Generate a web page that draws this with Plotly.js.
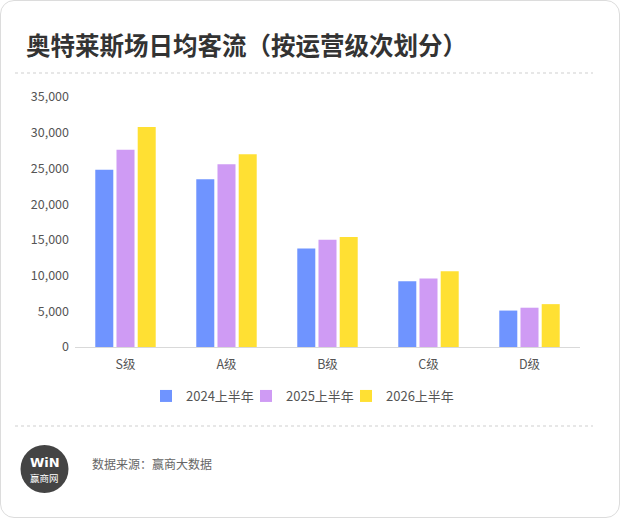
<!DOCTYPE html>
<html>
<head>
<meta charset="utf-8">
<script src="https://cdn.plot.ly/plotly-3.0.1.min.js"></script>
<style>
  html, body { margin: 0; padding: 0; background: #ffffff; }
  #card { position: absolute; left: 0; top: 0; width: 620px; height: 518px;
          box-sizing: border-box; border: 1px solid #dcdcdc; border-radius: 14px; background: #fff; }
  #chart { position: absolute; left: 0; top: 0; width: 620px; height: 518px; }
</style>
</head>
<body>
<div id="card"></div>
<div id="chart"></div>
<script>
// ---- data ----
const categories = ["S级", "A级", "B级", "C级", "D级"];
const seriesNames = ["2024上半年", "2025上半年", "2026上半年"];
const values2024 = [24800, 23500, 13800, 9200, 5100];
const values2025 = [27600, 25600, 15000, 9600, 5500];
const values2026 = [30800, 27000, 15400, 10600, 6000];
const yTicks = [0, 5000, 10000, 15000, 20000, 25000, 30000, 35000];
const titleText = "奥特莱斯场日均客流（按运营级次划分）";
const sourceText = "数据来源：赢商大数据";

// ---- layout helpers (pixel -> paper) ----
const L = 75, R = 580, T = 97, B = 347;
const px = x => (x - L) / (R - L);
const py = y => (B - y) / (B - T);

const colors = ["#6F94FF", "#CF9BF4", "#FFE033"];
const FONT = '"Noto Sans CJK SC", "Noto Sans", sans-serif';
const legendIds = ["legend", "legend2", "legend3"];
const legendLeft = [146, 246, 346];

const allValues = [values2024, values2025, values2026];
const traces = allValues.map((vals, i) => ({
  type: "bar",
  name: seriesNames[i],
  x: categories,
  y: vals,
  legend: legendIds[i],
  marker: { color: colors[i], line: { width: 0 } },
  hoverinfo: "x+y+name"
}));

const layout = {
  width: 620, height: 518,
  margin: { l: L, r: 620 - R, t: T, b: 518 - B },
  paper_bgcolor: "rgba(0,0,0,0)",
  plot_bgcolor: "rgba(0,0,0,0)",
  font: { family: FONT, color: "#555555", size: 12.5 },
  title: {
    text: titleText,
    font: { family: FONT, size: 24.5, color: "#333333", weight: "bold" },
    x: 26 / 620, xanchor: "left", xref: "container",
    y: 1 - 46 / 518, yanchor: "middle", yref: "container"
  },
  barmode: "group",
  bargap: 0.37,
  bargroupgap: 0.15,
  xaxis: {
    type: "category",
    showgrid: false,
    showline: true, linecolor: "#d9d9d9", linewidth: 1,
    ticks: "", tickfont: { size: 12.5, color: "#555555" },
    ticklabelstandoff: 6,
    fixedrange: true
  },
  yaxis: {
    range: [0, 35000],
    tickvals: yTicks,
    tickformat: ",d",
    showgrid: false, zeroline: false, showline: false,
    ticks: "", tickfont: { size: 12.5, color: "#555555" },
    ticklabelstandoff: 5,
    fixedrange: true
  },
  showlegend: true,
  shapes: [
    { type: "line", xref: "paper", yref: "paper", x0: px(15), x1: px(593), y0: py(73), y1: py(73),
      line: { color: "#cfcfcf", width: 1, dash: "dot" } },
    { type: "line", xref: "paper", yref: "paper", x0: px(15), x1: px(593), y0: py(426), y1: py(426),
      line: { color: "#cfcfcf", width: 1, dash: "dot" } },
    { type: "circle", xref: "paper", yref: "paper", x0: px(20.5), x1: px(68.5), y0: py(493), y1: py(445),
      fillcolor: "#444444", line: { width: 0 } }
  ],
  annotations: [
    { xref: "paper", yref: "paper", x: px(44.5), y: py(462), text: "<b>WiN</b>", showarrow: false,
      font: { family: '"DejaVu Sans", sans-serif', size: 13, color: "#ffffff" }, xanchor: "center", yanchor: "middle" },
    { xref: "paper", yref: "paper", x: px(44.5), y: py(478), text: "赢商网", showarrow: false,
      font: { family: FONT, size: 9.5, color: "#ffffff" }, xanchor: "center", yanchor: "middle" },
    { xref: "paper", yref: "paper", x: px(90), y: py(463), text: sourceText, showarrow: false,
      font: { family: FONT, size: 12, color: "#666666" }, xanchor: "left", yanchor: "middle" }
  ]
};

legendIds.forEach((id, i) => {
  layout[id] = {
    orientation: "h",
    x: px(legendLeft[i]), xanchor: "left",
    y: py(396), yanchor: "middle",
    font: { size: 13, color: "#555555" },
    bgcolor: "rgba(0,0,0,0)"
  };
});

Plotly.newPlot("chart", traces, layout, { displayModeBar: false, staticPlot: true });
</script>
</body>
</html>
